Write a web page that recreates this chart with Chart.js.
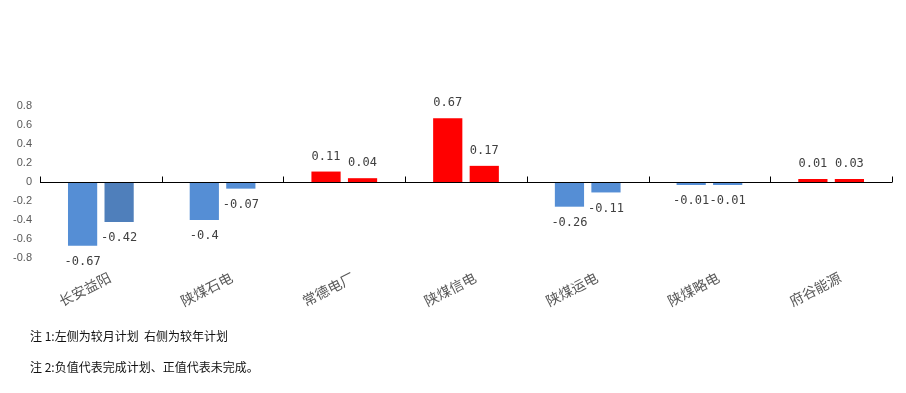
<!DOCTYPE html>
<html>
<head>
<meta charset="utf-8">
<script src="https://cdn.jsdelivr.net/npm/chart.js@4"></script>
<style>
body{margin:0;background:#fff;}
#wrap{position:relative;width:906px;height:393px;}
#chart{position:absolute;left:0;top:0;}
.note{position:absolute;left:30px;font:12px "Noto Sans CJK SC",sans-serif;color:#111;white-space:pre;}
</style>
</head>
<body>
<div id="wrap">
<canvas id="chart" width="906" height="393"></canvas>
<div class="note" style="top:327px">注 1:左侧为较月计划  右侧为较年计划</div>
<div class="note" style="top:358px">注 2:负值代表完成计划、正值代表未完成。</div>
</div>
<script>
// categories and values
const categories = ["长安益阳","陕煤石电","常德电厂","陕煤信电","陕煤运电","陕煤略电","府谷能源"];
const monthValues = [-0.67,-0.4,0.11,0.67,-0.26,-0.01,0.01];
const yearValues = [-0.42,-0.07,0.04,0.17,-0.11,-0.01,0.03];
const monthColors = ["#558ed5","#558ed5","#ff0000","#ff0000","#558ed5","#558ed5","#ff0000"];
const yearColors = ["#4f7fbb","#558ed5","#ff0000","#ff0000","#558ed5","#558ed5","#ff0000"];

// value labels: above positive bars, below negative ones
const valueLabels = {
id:"valueLabels",
afterDatasetsDraw(chart){
const c = chart.ctx;
c.save();
c.font = "12px 'DejaVu Sans Mono', monospace";
c.fillStyle = "#404040";
c.textAlign = "center";
c.textBaseline = "middle";
chart.data.datasets.forEach((ds,i)=>{
chart.getDatasetMeta(i).data.forEach((bar,j)=>{
const v = ds.data[j];
const y = v < 0 ? bar.y + 16 : bar.y - 15;
c.fillText(String(v), bar.x, y);
});
});
c.restore();
}
};

// zero line with short tick marks between categories
const zeroAxis = {
id:"zeroAxis",
afterDatasetsDraw(chart){
const c = chart.ctx;
const xs = chart.scales.x;
const y0 = Math.round(chart.scales.y.getPixelForValue(0)) + 0.5;
c.save();
c.strokeStyle = "#000";
c.lineWidth = 1;
c.beginPath();
c.moveTo(chart.chartArea.left, y0);
c.lineTo(chart.chartArea.right, y0);
c.stroke();
const half = (xs.getPixelForValue(1) - xs.getPixelForValue(0)) / 2;
for(let i=0;i<=categories.length;i++){
const x = Math.round(xs.getPixelForValue(i) - half) + 0.5;
c.beginPath();
c.moveTo(x, y0);
c.lineTo(x, y0 - 6);
c.stroke();
}
c.restore();
}
};

new Chart(document.getElementById("chart"),{
type:"bar",
data:{
labels:categories,
datasets:[
{label:"较月计划",data:monthValues,backgroundColor:monthColors,minBarLength:3},
{label:"较年计划",data:yearValues,backgroundColor:yearColors,minBarLength:3}
]
},
options:{
responsive:false,
animation:false,
devicePixelRatio:1,
categoryPercentage:0.6,
barPercentage:0.8,
layout:{padding:{top:106,right:14,left:0,bottom:0}},
plugins:{legend:{display:false},tooltip:{enabled:false}},
scales:{
x:{
grid:{display:false},
border:{display:false},
ticks:{
color:"#595959",
font:{family:"'Noto Sans CJK SC', sans-serif",size:14},
minRotation:27,maxRotation:27,
padding:3,
labelOffset:9,
autoSkip:false
},
afterFit(s){ s.height = 135; }
},
y:{
min:-0.8,max:0.8,
grid:{display:false,drawTicks:false},
border:{display:false},
ticks:{
stepSize:0.2,
color:"#595959",
font:{family:"'Liberation Sans', sans-serif",size:11},
padding:8
},
afterFit(s){ s.width = 40; }
}
}
},
plugins:[valueLabels,zeroAxis]
});
</script>
</body>
</html>
